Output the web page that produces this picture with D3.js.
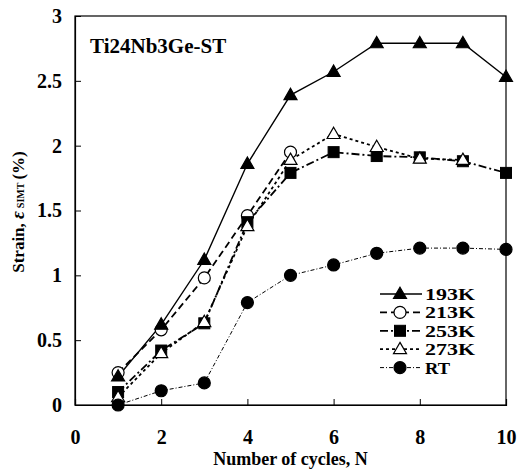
<!DOCTYPE html>
<html>
<head>
<meta charset="utf-8">
<script src="https://cdn.jsdelivr.net/npm/d3@7"></script>
<style>
  body { margin: 0; background: #fff; }
  text { font-family: "Liberation Serif", "Times New Roman", serif; font-weight: bold; fill: #000; }
</style>
</head>
<body>
<svg id="chart" width="520" height="471"></svg>
<script>
// data
const cycles = [1, 2, 3, 4, 5, 6, 7, 8, 9, 10];
const k193 = [0.22, 0.62, 1.12, 1.86, 2.39, 2.57, 2.79, 2.79, 2.79, 2.53];
const k213 = [0.25, 0.58, 0.98, 1.46, 1.95];
const k253 = [0.10, 0.42, 0.63, 1.41, 1.79, 1.95, 1.92, 1.91, 1.88, 1.79];
const k273 = [0.06, 0.40, 0.64, 1.38, 1.89, 2.09, 1.99, 1.90, 1.89];
const rt = [0.00, 0.11, 0.17, 0.79, 1.00, 1.08, 1.17, 1.21, 1.21, 1.20];
const xTicks = [0, 2, 4, 6, 8, 10];
const yTicks = [0, 0.5, 1, 1.5, 2, 2.5, 3];

const series = [
    { name: "193K", values: k193, marker: "tri", fill: "#000", dash: null, width: 1.4 },
    { name: "213K", values: k213, marker: "circle", fill: "#fff", dash: "7,4", width: 1.8 },
    { name: "253K", values: k253, marker: "square", fill: "#000", dash: "8,3,2,3", width: 1.8 },
    { name: "273K", values: k273, marker: "tri", fill: "#fff", dash: "3,3", width: 1.8 },
    { name: "RT", values: rt, marker: "circle", fill: "#000", dash: "4,2,1,2", width: 1 }
];

const svg = d3.select("#chart"),
    margin = { top: 16, right: 14, bottom: 66, left: 75 },
    width = +svg.attr("width") - margin.left - margin.right,
    height = +svg.attr("height") - margin.top - margin.bottom,
    chart = svg.append("g").attr("transform", `translate(${margin.left},${margin.top})`);

const x = d3.scaleLinear().domain([0, 10]).range([0, width]);
const y = d3.scaleLinear().domain([0, 3]).range([height, 0]);

// frame
chart.append("rect")
    .attr("width", width).attr("height", height)
    .attr("fill", "none").attr("stroke", "#000").attr("stroke-width", 1.2);

const xAxis = chart.append("g")
    .attr("transform", `translate(0,${height})`)
    .call(d3.axisBottom(x).tickValues(xTicks).tickSize(-6).tickPadding(25));
const yAxis = chart.append("g")
    .call(d3.axisLeft(y).tickValues(yTicks).tickSize(-6).tickPadding(13).tickFormat(d3.format("")));
[xAxis, yAxis].forEach(a => {
    a.select(".domain").attr("stroke-width", 1.2);
    a.selectAll("text").style("font-size", "20px").style("font-family", "Liberation Serif").style("font-weight", "bold");
});

function drawMarker(g, type, fill, cx, cy) {
    if (type === "circle") {
        g.append("circle").attr("cx", cx).attr("cy", cy).attr("r", 6)
            .attr("fill", fill).attr("stroke", "#000").attr("stroke-width", 1.2);
    } else if (type === "square") {
        g.append("rect").attr("x", cx - 5.5).attr("y", cy - 5.5).attr("width", 11).attr("height", 11)
            .attr("fill", fill).attr("stroke", "#000").attr("stroke-width", 1);
    } else {
        const s = 13, h = s * 0.87;
        g.append("path")
            .attr("d", `M${cx},${cy - h * 0.6}L${cx + s / 2},${cy + h * 0.4}L${cx - s / 2},${cy + h * 0.4}Z`)
            .attr("fill", fill).attr("stroke", "#000").attr("stroke-width", 1.2);
    }
}

const line = d3.line().x(d => x(d[0])).y(d => y(d[1]));

// lines first, then markers (RT drawn last on top)
series.forEach(s => {
    const pts = s.values.map((v, i) => [cycles[i], v]);
    chart.append("path").datum(pts)
        .attr("d", line)
        .attr("fill", "none").attr("stroke", "#000")
        .attr("stroke-width", s.width)
        .attr("stroke-dasharray", s.dash);
});
["213K", "253K", "273K", "193K", "RT"].forEach(n => {
    const s = series.find(d => d.name === n);
    const g = chart.append("g");
    s.values.forEach((v, i) => drawMarker(g, s.marker, s.fill, x(cycles[i]), y(v)));
});

// label
chart.append("text").attr("x", 15).attr("y", 37)
    .style("font-size", "21px").text("Ti24Nb3Ge-ST");

// legend
const legend = svg.append("g").attr("transform", "translate(380,294)");
series.forEach((s, i) => {
    const row = legend.append("g").attr("transform", `translate(0,${i * 18.4})`);
    row.append("line").attr("x1", 0).attr("x2", 42).attr("y1", 0).attr("y2", 0)
        .attr("stroke", "#000").attr("stroke-width", s.width).attr("stroke-dasharray", s.dash);
    drawMarker(row, s.marker, s.fill, 20, 0);
    row.append("text").attr("x", 45).attr("y", 6).style("font-size", "17px")
        .attr("textLength", s.name.length * 12.5).attr("lengthAdjust", "spacingAndGlyphs")
        .text(s.name);
});

// axis titles
svg.append("text").attr("x", margin.left + width / 2 + 0).attr("y", 465)
    .attr("text-anchor", "middle").style("font-size", "18px").text("Number of cycles, N");

const yt = svg.append("text")
    .attr("transform", `translate(24,212) rotate(-90)`)
    .attr("text-anchor", "middle").style("font-size", "17px");
yt.append("tspan").text("Strain, ");
yt.append("tspan").style("font-style", "italic").style("font-size", "19px").text("ε");
yt.append("tspan").style("font-size", "10px").attr("dx", 3).text("SIMT");
yt.append("tspan").attr("dx", 3).text("(%)");
</script>
</body>
</html>
